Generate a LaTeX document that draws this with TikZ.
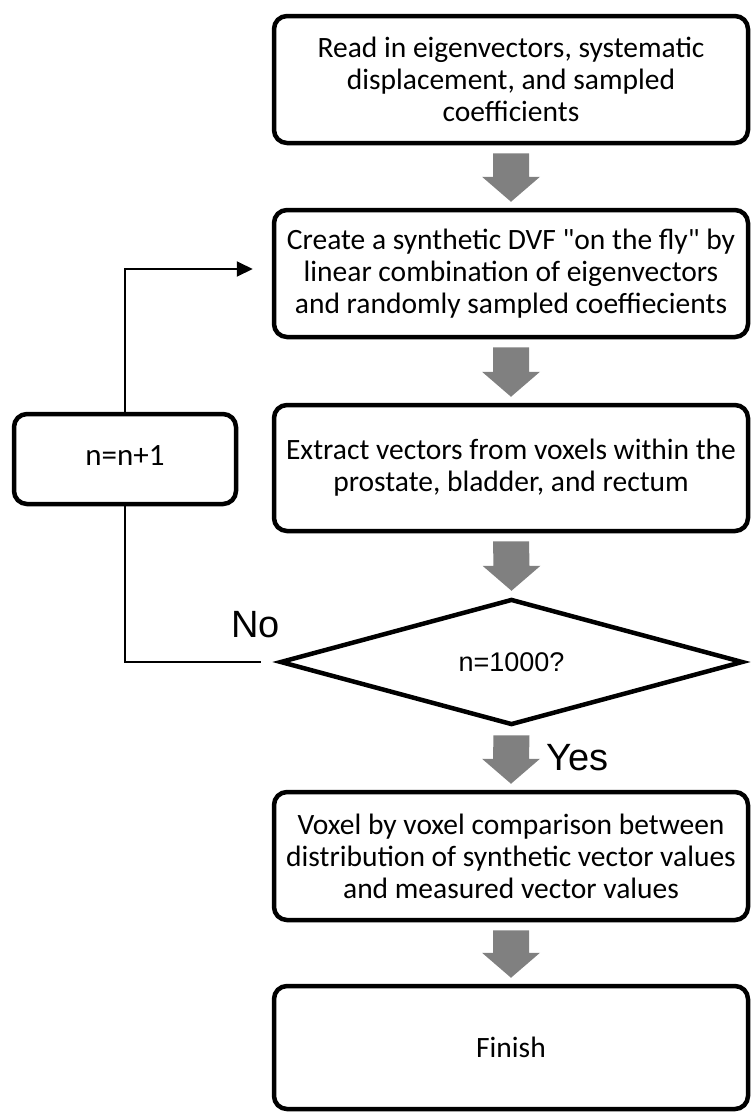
\documentclass[tikz,border=0pt]{standalone}
\usepackage{fontspec}
\setmainfont{Carlito}[Ligatures=TeXOff]
\newfontfamily\arialf{Liberation Sans}
\usetikzlibrary{shapes.geometric,arrows.meta,calc}
\definecolor{arrowgray}{RGB}{128,128,128}
\tikzset{
  procbox/.style={draw=black, line width=4.5pt, rounded corners=13pt, fill=white,
    inner sep=0pt, align=center, font=\fontsize{29.5pt}{32pt}\selectfont},
  decbox/.style={draw=black, line width=4.5pt, diamond, inner sep=0pt, fill=white,
    font=\arialf\fontsize{27pt}{30pt}\selectfont},
  flowline/.style={draw=black, line width=2pt},
  lbl/.style={inner sep=0pt, font=\arialf\fontsize{38pt}{42pt}\selectfont}
}
\newcommand\blockarr[2]{%
  \fill[arrowgray] ($(#1.south)+(-18,-8)$) -- ($(#1.south)+(18,-8)$)
    -- ($(#2.north)+(18,31)$) -- ($(#2.north)+(29,31)$) -- ($(#2.north)+(0,6)$)
    -- ($(#2.north)+(-29,31)$) -- ($(#2.north)+(-18,31)$) -- cycle;}
\begin{document}
\begin{tikzpicture}[x=1pt,y=1pt]
\useasboundingbox (0,0) rectangle (751,-1112);
\node[procbox, minimum width=474pt, minimum height=127pt] (b1) at (511,-79.5)
  {Read in eigenvectors, systematic\\displacement, and sampled\\coefficients};
\node[procbox, minimum width=474pt, minimum height=127pt] (b2) at (511,-273.5)
  {Create a synthetic DVF "on the fly" by\\linear combination of eigenvectors\\and randomly sampled coeffiecients};
\node[procbox, minimum width=474pt, minimum height=126pt] (b3) at (511,-468)
  {Extract vectors from voxels within the\\prostate, bladder, and rectum};
\node[decbox, minimum width=463pt, minimum height=126pt] (d) at (511.5,-662) {n=1000?};
\node[procbox, minimum width=474pt, minimum height=128pt] (b4) at (511,-856)
  {Voxel by voxel comparison between\\distribution of synthetic vector values\\and measured vector values};
\node[procbox, minimum width=474pt, minimum height=123pt] (b5) at (511,-1047.5) {Finish};
\node[procbox, minimum width=222pt, minimum height=90pt, font=\fontsize{31pt}{34pt}\selectfont] (loop) at (125,-459)
  {\raisebox{7pt}{n=n+1}};
\blockarr{b1}{b2}
\blockarr{b2}{b3}
\blockarr{b3}{d}
\blockarr{d}{b4}
\blockarr{b4}{b5}
\draw[flowline] ([xshift=-17pt]d.west) -| (loop.south);
\draw[flowline, -{Triangle[length=16pt,width=15pt]}] (loop.north) |- ([xshift=-19pt,yshift=4.5pt]b2.west);
\node[lbl, anchor=base west] (no) at (231,-637) {No};
\node[lbl, anchor=base west] (yes) at (546,-770) {Yes};
\end{tikzpicture}
\end{document}
